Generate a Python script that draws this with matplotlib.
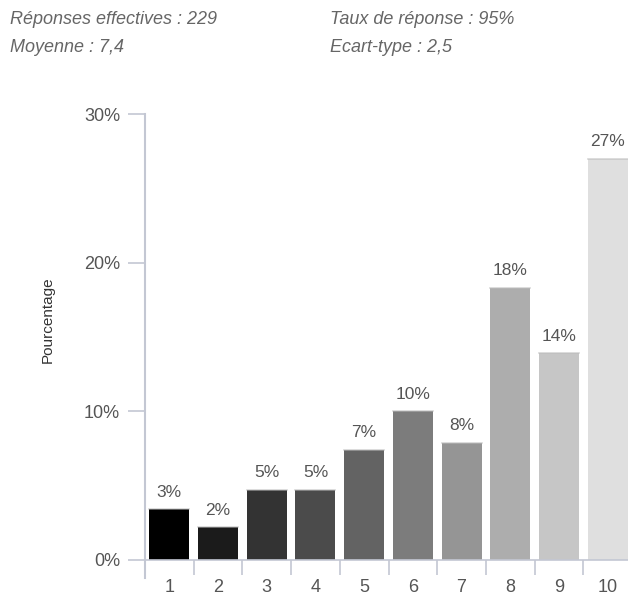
import matplotlib
matplotlib.use("Agg")
import matplotlib.pyplot as plt
import numpy as np

# data
categories = ["1", "2", "3", "4", "5", "6", "7", "8", "9", "10"]
pourcentages = [3.4, 2.2, 4.7, 4.7, 7.4, 10.0, 7.9, 18.3, 13.9, 27.0]
etiquettes = ["3%", "2%", "5%", "5%", "7%", "10%", "8%", "18%", "14%", "27%"]
yticks = [0, 10, 20, 30]
ytick_labels = ["0%", "10%", "20%", "30%"]
couleurs = ["#000000", "#1b1b1b", "#333333", "#4b4b4b", "#636363",
            "#7c7c7c", "#959595", "#adadad", "#c6c6c6", "#dfdfdf"]
entete = [("Réponses effectives : 229", "Taux de réponse : 95%"),
          ("Moyenne : 7,4", "Ecart-type : 2,5")]

plt.rcParams['font.family'] = ['Liberation Sans Narrow', 'Liberation Sans', 'DejaVu Sans']

W, H = 628, 598
fig = plt.figure(figsize=(W/100, H/100), dpi=100)
axcol = "#c3c7d3"
txt = "#555555"

# axes: x from 145 px, 0% at y=560, 30% at y=114
ax = fig.add_axes([145/W, (H-560)/H, 487/W, (560-114)/H])
x = np.arange(len(categories))
bars = ax.bar(x, pourcentages, width=0.82, color=couleurs, edgecolor="none")
for b in bars:
    ax.plot([b.get_x(), b.get_x()+b.get_width()], [b.get_height()]*2,
            color="#bbbbbb", lw=1.2, alpha=0.6)

for xi, v, lab in zip(x, pourcentages, etiquettes):
    ax.annotate(lab, (xi, v), xytext=(0, 7), textcoords="offset points",
                ha="center", va="bottom", fontsize=12.5, color=txt)

ax.set_xlim(-0.5, len(categories)-0.5)
ax.set_ylim(0, 30)
ax.set_yticks(yticks)
ax.set_yticklabels(ytick_labels)
ax.set_xticks(x)
ax.set_xticklabels(categories)
ax.set_xticks(np.arange(0.5, len(categories)-0.5, 1), minor=True)

for s in ["top", "right"]:
    ax.spines[s].set_visible(False)
ax.spines["left"].set_visible(False)
ax.spines["bottom"].set_color(axcol)
ax.spines["bottom"].set_linewidth(1.2)
# y axis line extends a bit below 0
ax.plot([0, 0], [-0.04, 1], transform=ax.transAxes, color=axcol, lw=1.5, clip_on=False)

ax.tick_params(axis="y", length=12, width=1.2, color=axcol, labelcolor=txt,
               labelsize=13, pad=6)
ax.tick_params(axis="x", which="major", length=0, labelcolor=txt, labelsize=13, pad=14)
ax.tick_params(axis="x", which="minor", length=11, width=1.2, color=axcol)

fig.text(48/W, 1-320/H, "Pourcentage", rotation=90, ha="center", va="center",
         fontsize=11, color="#333333")

for i, (gauche, droite) in enumerate(entete):
    yy = 1 - (24 + 28*i)/H
    fig.text(10/W, yy, gauche, style="italic", fontsize=13, color="#666666", va="baseline")
    fig.text(330/W, yy, droite, style="italic", fontsize=13, color="#666666", va="baseline")

fig.savefig("out.png", dpi=100)
